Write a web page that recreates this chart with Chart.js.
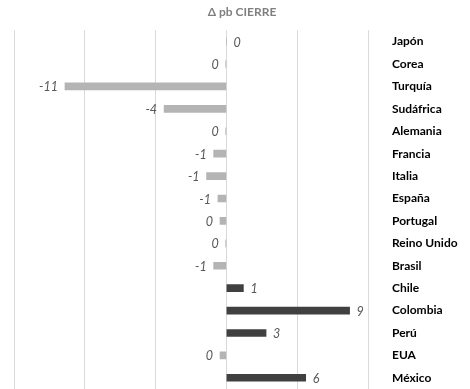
<!DOCTYPE html>
<html>
<head>
<meta charset="utf-8">
<script src="https://cdn.jsdelivr.net/npm/chart.js@4"></script>
<style>
  html, body { margin: 0; padding: 0; background: #fff; overflow: hidden; }
  canvas { display: block; }
</style>
</head>
<body>
<canvas id="chart" width="470" height="389"></canvas>
<script>
// Δ pb al cierre por país
const paises = ['Japón', 'Corea', 'Turquía', 'Sudáfrica', 'Alemania', 'Francia', 'Italia', 'España',
    'Portugal', 'Reino Unido', 'Brasil', 'Chile', 'Colombia', 'Perú', 'EUA', 'México'];
const deltaPb = [0, -0.05, -11.4, -4.4, -0.05, -0.9, -1.4, -0.6,
    -0.45, -0.05, -0.9, 1.2, 8.7, 2.8, -0.45, 5.6];
const xTicks = [-15, -10, -5, 0, 5, 10];

const GRIS = '#b4b4b4';
const OSCURO = '#404040';

// etiquetas de valor en cursiva junto a cada barra
const valueLabels = {
    id: 'valueLabels',
    afterDatasetsDraw(chart) {
        const ctx = chart.ctx;
        const meta = chart.getDatasetMeta(0);
        ctx.save();
        ctx.font = 'italic 12.5px Lato';
        ctx.fillStyle = '#595959';
        ctx.textBaseline = 'middle';
        meta.data.forEach((bar, i) => {
            const v = deltaPb[i];
            let txt = String(Math.round(v));
            if (txt === '-0') txt = '0';
            if (v >= 0) {
                ctx.textAlign = 'left';
                ctx.fillText(txt, bar.x + 7, bar.y + 1);
            } else {
                ctx.textAlign = 'right';
                ctx.fillText(txt, bar.x - 7, bar.y + 1);
            }
        });
        ctx.restore();
    }
};

new Chart(document.getElementById('chart'), {
    type: 'bar',
    data: {
        labels: paises,
        datasets: [{
            data: deltaPb,
            backgroundColor: deltaPb.map(v => v > 0 ? OSCURO : GRIS),
            barThickness: 7,
            borderWidth: 0
        }]
    },
    options: {
        indexAxis: 'y',
        responsive: false,
        animation: false,
        layout: { padding: { left: 14, right: 0, top: 0, bottom: 0 } },
        scales: {
            x: {
                min: xTicks[0],
                max: xTicks[xTicks.length - 1],
                afterBuildTicks: (scale) => { scale.ticks = xTicks.map(v => ({ value: v })); },
                afterFit: (scale) => { scale.height = 0; },
                ticks: { display: false },
                grid: { color: '#d9d9d9', drawTicks: false },
                border: { display: false }
            },
            y: {
                position: 'right',
                grid: { display: false, drawTicks: false },
                border: { display: false },
                afterFit: (scale) => {
                    // the tick padding would otherwise also pad top and bottom
                    scale.width = 102;
                    scale.paddingTop = 0;
                    scale.paddingBottom = 0;
                },
                ticks: {
                    padding: 24,
                    color: '#000',
                    font: { family: 'Lato', size: 12, weight: 'bold' }
                }
            }
        },
        plugins: {
            legend: { display: false },
            tooltip: { enabled: false },
            title: {
                display: true,
                text: 'Δ pb CIERRE',
                color: '#7f7f7f',
                font: { family: 'Lato', size: 12, weight: 'bold' },
                padding: { top: 5, bottom: 11 }
            }
        }
    },
    plugins: [valueLabels]
});
</script>
</body>
</html>
